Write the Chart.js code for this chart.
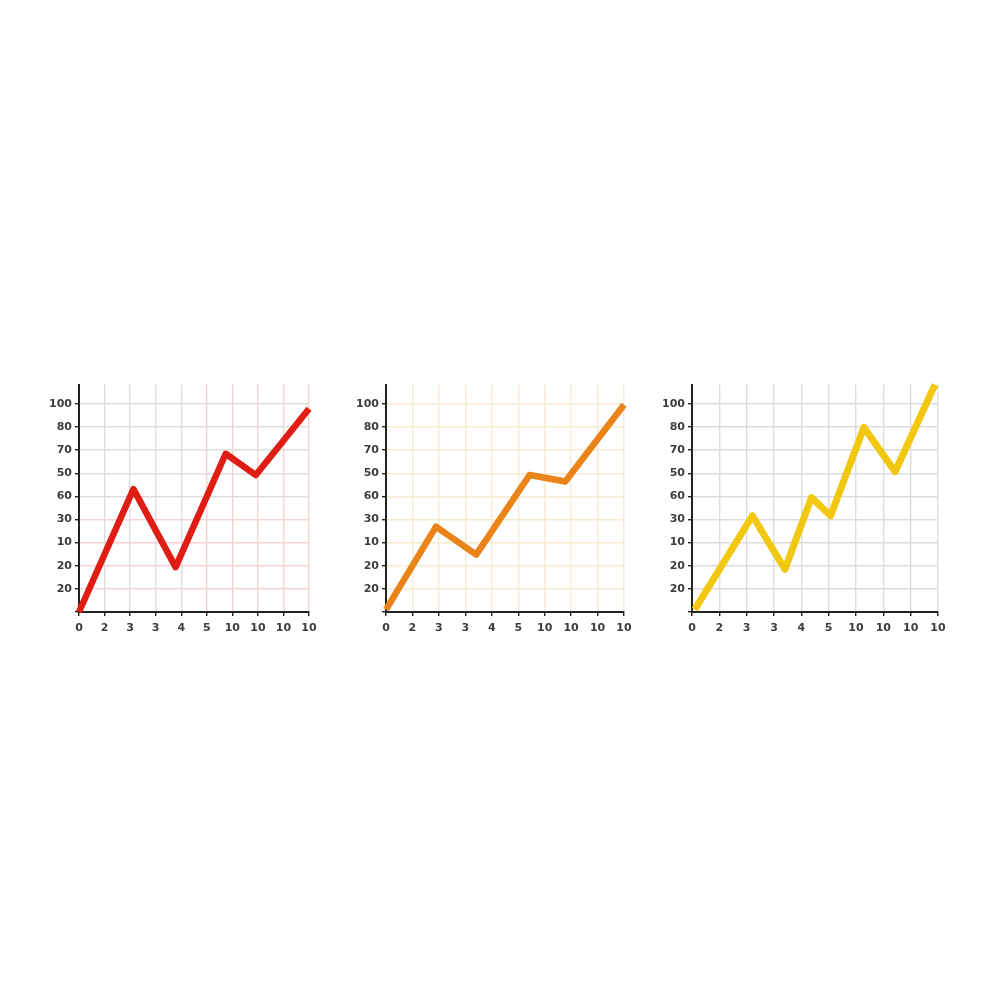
<!DOCTYPE html>
<html>
<head>
<meta charset="utf-8">
<script src="https://cdn.jsdelivr.net/npm/chart.js@4"></script>
<style>
  body { margin: 0; background: #fff; }
  .box { position: absolute; }
</style>
</head>
<body>
<div class="box" id="b1"><canvas id="c1"></canvas></div>
<div class="box" id="b2"><canvas id="c2"></canvas></div>
<div class="box" id="b3"><canvas id="c3"></canvas></div>
<script>
// tick labels as printed on the charts (bottom to top / left to right)
const xTickLabels = ["0", "2", "3", "3", "4", "5", "10", "10", "10", "10"];
const yTickLabels = ["", "20", "20", "10", "30", "60", "50", "70", "80", "100"];

// red chart
const redX = [0, 2.13, 3.78, 5.74, 6.92, 9.0];
const redY = [0, 53.1, 19.4, 68.4, 59.2, 87.9];

// orange chart
const orangeX = [0, 1.89, 3.41, 5.43, 6.78, 9.0];
const orangeY = [1, 36.9, 24.8, 59.2, 56.4, 89.6];

// yellow chart
const yellowX = [0.1, 2.21, 3.40, 4.37, 5.07, 6.29, 7.43, 8.89];
const yellowY = [1, 41.6, 18.5, 49.5, 41.6, 79.8, 60.6, 98.3];

function pts(xs, ys) {
  return xs.map((x, i) => ({ x: x, y: ys[i] }));
}

function makeChart(n, axisX, rightX, xs, ys, color, lw, gridX, gridY) {
  const box = document.getElementById('b' + n);
  box.style.left = (axisX - 40) + 'px';
  box.style.top = '375px';
  box.style.width = (rightX - axisX + 40 + 14) + 'px';
  box.style.height = '265px';

  const font = { family: 'DejaVu Sans', size: 11, weight: 'bold' };

  new Chart(document.getElementById('c' + n), {
    type: 'line',
    data: {
      datasets: [{
        data: pts(xs, ys),
        borderColor: color,
        borderWidth: lw,
        pointRadius: 0,
        tension: 0,
        borderJoinStyle: 'round',
        clip: 6
      }]
    },
    options: {
      responsive: true,
      maintainAspectRatio: false,
      animation: false,
      layout: { padding: { top: 8, right: 14, left: 0, bottom: 0 } },
      plugins: { legend: { display: false }, tooltip: { enabled: false } },
      scales: {
        x: {
          type: 'linear',
          min: 0,
          max: 9,
          afterFit: s => { s.height = 28; },
          border: { color: '#222', width: 2 },
          grid: { color: gridX, tickColor: '#222', tickLength: 4, lineWidth: 1.4 },
          ticks: {
            stepSize: 1,
            color: '#3c3c3c',
            font: font,
            padding: 6,
            maxRotation: 0,
            callback: v => xTickLabels[v]
          }
        },
        y: {
          min: 0,
          max: 98.3,
          afterFit: s => { s.width = 40; },
          border: { color: '#222', width: 2 },
          grid: { color: gridY, tickColor: '#222', tickLength: 4, lineWidth: 1.4 },
          ticks: {
            stepSize: 10,
            includeBounds: false,
            color: '#3c3c3c',
            font: font,
            padding: 3,
            callback: v => yTickLabels[Math.round(v / 10)]
          }
        }
      }
    }
  });
}

makeChart(1, 79, 309, redX, redY, '#e01d14', 6.5,
  c => (c.index >= 5 ? '#f8d2d2' : '#dedede'),
  c => (c.index <= 4 ? '#f8d2d2' : '#dedede'));
makeChart(2, 386, 624, orangeX, orangeY, '#ea8419', 6.5,
  () => '#f6ebcf', () => '#f6ebcf');
makeChart(3, 692, 938, yellowX, yellowY, '#f2c70f', 7,
  () => '#dcdcdc', () => '#dcdcdc');
</script>
</body>
</html>
